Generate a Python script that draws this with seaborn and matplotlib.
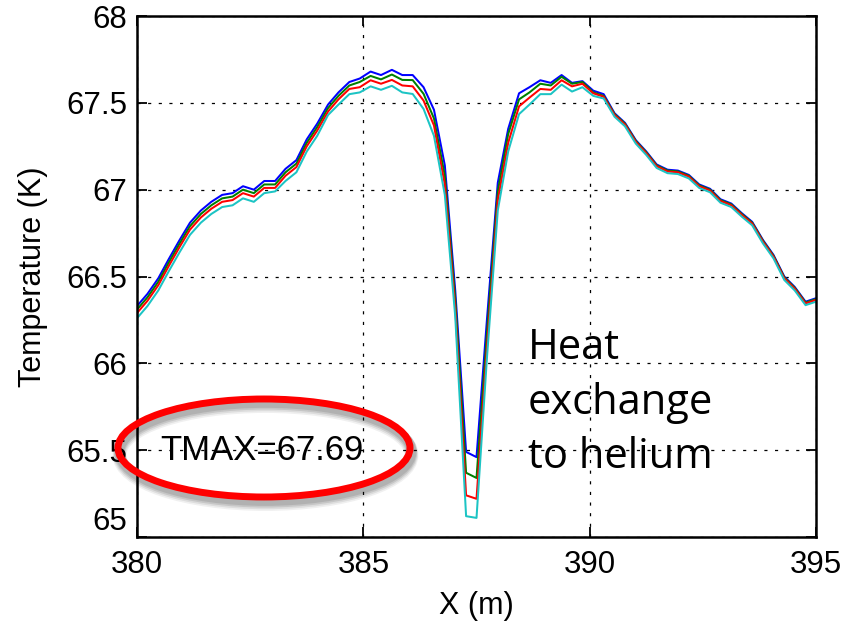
import numpy as np
import pandas as pd
import matplotlib
matplotlib.use("Agg")
import matplotlib.pyplot as plt
import seaborn as sns
from matplotlib.patches import Ellipse

x_m = [380.00, 380.23, 380.47, 380.70, 380.94, 381.17, 381.41, 381.64, 381.88,
       382.11, 382.34, 382.58, 382.81, 383.05, 383.28, 383.52, 383.75, 383.98,
       384.22, 384.45, 384.69, 384.92, 385.16, 385.39, 385.63, 385.86, 386.09,
       386.33, 386.56, 386.80, 387.03, 387.27, 387.50, 387.73, 387.97, 388.20,
       388.44, 388.67, 388.91, 389.14, 389.38, 389.61, 389.84, 390.08, 390.31,
       390.55, 390.78, 391.02, 391.25, 391.48, 391.72, 391.95, 392.19, 392.42,
       392.66, 392.89, 393.13, 393.36, 393.59, 393.83, 394.06, 394.30, 394.53,
       394.77, 395.00]

t_blue = [66.33, 66.40, 66.49, 66.60, 66.71, 66.81, 66.88, 66.93, 66.97, 66.98,
          67.02, 67.00, 67.05, 67.05, 67.12, 67.17, 67.29, 67.38, 67.49, 67.56,
          67.62, 67.64, 67.68, 67.66, 67.69, 67.66, 67.66, 67.59, 67.46, 67.14,
          66.42, 65.49, 65.46, 66.25, 67.04, 67.35, 67.555, 67.59, 67.63, 67.615,
          67.66, 67.615, 67.625, 67.57, 67.55, 67.44, 67.385, 67.285, 67.22, 67.145,
          67.115, 67.11, 67.085, 67.03, 67.005, 66.945, 66.92, 66.865, 66.815, 66.71,
          66.625, 66.50, 66.44, 66.355, 66.375]

t_green = [66.31, 66.38, 66.47, 66.58, 66.69, 66.79, 66.86, 66.91, 66.95, 66.96,
           67.00, 66.98, 67.03, 67.03, 67.10, 67.15, 67.27, 67.36, 67.47, 67.54,
           67.60, 67.62, 67.655, 67.635, 67.663, 67.632, 67.631, 67.552, 67.41, 67.08,
           66.37, 65.37, 65.34, 66.17, 66.99, 67.32, 67.52, 67.56, 67.61, 67.60,
           67.65, 67.61, 67.62, 67.56, 67.54, 67.435, 67.38, 67.28, 67.215, 67.14,
           67.11, 67.105, 67.08, 67.025, 67.00, 66.94, 66.915, 66.86, 66.81, 66.705,
           66.62, 66.495, 66.435, 66.35, 66.37]

t_red = [66.29, 66.36, 66.45, 66.56, 66.67, 66.77, 66.84, 66.89, 66.93, 66.94,
         66.98, 66.96, 67.01, 67.01, 67.08, 67.13, 67.25, 67.34, 67.45, 67.52,
         67.58, 67.59, 67.63, 67.61, 67.632, 67.60, 67.595, 67.513, 67.37, 67.03,
         66.32, 65.24, 65.22, 66.09, 66.94, 67.27, 67.48, 67.53, 67.58, 67.575,
         67.63, 67.595, 67.61, 67.555, 67.535, 67.43, 67.375, 67.275, 67.21, 67.135,
         67.105, 67.10, 67.075, 67.02, 66.995, 66.935, 66.91, 66.855, 66.805, 66.70,
         66.615, 66.49, 66.43, 66.345, 66.365]

t_cyan = [66.26, 66.33, 66.42, 66.53, 66.64, 66.74, 66.81, 66.86, 66.90, 66.91,
          66.95, 66.93, 66.98, 66.99, 67.05, 67.10, 67.22, 67.31, 67.43, 67.49,
          67.55, 67.56, 67.595, 67.575, 67.598, 67.56, 67.551, 67.465, 67.31, 66.97,
          66.27, 65.12, 65.11, 66.03, 66.88, 67.22, 67.435, 67.49, 67.55, 67.55,
          67.605, 67.565, 67.59, 67.54, 67.525, 67.42, 67.365, 67.265, 67.20, 67.125,
          67.095, 67.09, 67.065, 67.01, 66.985, 66.925, 66.90, 66.845, 66.795, 66.69,
          66.605, 66.48, 66.42, 66.335, 66.355]

series_names = ["blue", "green", "red", "cyan"]
series_colors = ["#0000ff", "#008000", "#ff0000", "#1cc4c4"]
x_ticks = [380, 385, 390, 395]
y_ticks = [65, 65.5, 66, 66.5, 67, 67.5, 68]
y_tick_labels = ["65", "65.5", "66", "66.5", "67", "67.5", "68"]
annot_text = "TMAX=67.69"
note_text = "Heat\nexchange\nto helium"

frames = []
for name, vals in zip(series_names, [t_blue, t_green, t_red, t_cyan]):
    frames.append(pd.DataFrame({"x": x_m, "T": vals, "series": name}))
df = pd.concat(frames, ignore_index=True)

sns.set_theme(style="white")
plt.rcParams["font.family"] = ["Liberation Sans", "DejaVu Sans"]

fig = plt.figure(figsize=(8.46, 6.30), dpi=100)
ax = fig.add_axes([0.162, 0.1476, 0.8025, 0.827])

sns.lineplot(data=df, x="x", y="T", hue="series", hue_order=series_names,
             palette=series_colors, legend=False, linewidth=1.45, ax=ax,
             estimator=None, sort=False)

ax.set_xlim(380, 395)
ax.set_ylim(65, 68)
ax.set_xticks(x_ticks)
ax.set_xticklabels([str(v) for v in x_ticks])
ax.set_yticks(y_ticks)
ax.set_yticklabels(y_tick_labels)
ax.tick_params(axis="both", which="both", direction="in", length=7, width=1.3,
               labelsize=22.5, colors="black", top=True, right=True,
               bottom=True, left=True)
ax.tick_params(axis="x", pad=9)
ax.tick_params(axis="y", pad=7)
ax.get_yticklabels()[0].set_va("bottom")
for s in ax.spines.values():
    s.set_visible(True)
    s.set_linewidth(1.8)
    s.set_color("black")
ax.grid(True, color="black", linestyle=(0, (2.5, 6)), linewidth=0.9)
ax.set_axisbelow(True)

ax.set_xlabel("X (m)", fontsize=22, labelpad=8, color="black")
ax.set_ylabel("Temperature (K)", fontsize=22, labelpad=13, color="black")

# ellipse annotation with soft shadow (in pixel-based figure coords)
W, H = 846, 630
cx, cy = 264 / W, 1 - 448 / H
ew, eh = 292 / W, 98 / H
for k, a in [(5, 0.06), (4, 0.08), (3, 0.10), (2, 0.10)]:
    fig.patches.append(Ellipse((cx + 1.5 / W, cy - (k + 2) / H), ew, eh,
                               transform=fig.transFigure, fill=False,
                               edgecolor="black", alpha=a, linewidth=5 + k))
fig.patches.append(Ellipse((cx, cy), ew, eh, transform=fig.transFigure,
                           fill=False, edgecolor="#ff0000", linewidth=5))
fig.text(262 / W, 1 - 451 / H, annot_text, fontsize=25, ha="center",
         va="center", color="black")

ax.text(388.63, 66.21, note_text, fontsize=30, ha="left", va="top",
        family=["Open Sans", "DejaVu Sans"], color="black", linespacing=1.4)

fig.savefig("out.png", dpi=100)
